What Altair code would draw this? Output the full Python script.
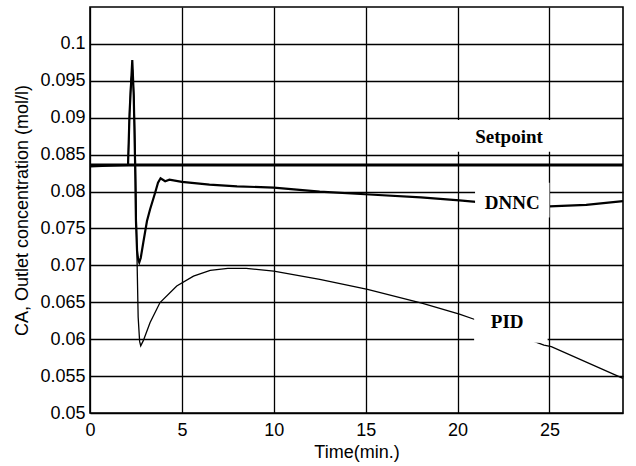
import altair as alt
import pandas as pd

# ---- data ----
dnnc_t = [0, 1.0, 2.07, 2.15, 2.30, 2.38, 2.45, 2.50, 2.56, 2.62, 2.68, 2.76, 2.90, 3.10, 3.27, 3.54, 3.70, 3.84,
          4.09, 4.32, 5.0, 6.5, 8.0, 10.0, 12.5, 15.2, 18.0, 20.1, 21.0, 25.0, 27.0, 29.0]
dnnc_v = [0.0834, 0.0835, 0.0836, 0.0905, 0.0978, 0.0930, 0.0843, 0.0760, 0.0720, 0.0708, 0.0704, 0.0710,
          0.0731, 0.0760, 0.0776, 0.0798, 0.0812, 0.0818, 0.0814, 0.0816, 0.0813, 0.08095, 0.0807, 0.08054,
          0.0800, 0.0796, 0.0792, 0.0788, 0.0786, 0.0780, 0.0782, 0.0787]

pid_t = [0, 2.07, 2.12, 2.22, 2.32, 2.40, 2.47, 2.55, 2.62, 2.70, 2.76, 2.90, 3.27, 3.81, 4.72, 5.63, 6.54, 7.5,
         8.5, 10.0, 12.5, 15.1, 18.1, 20.1, 20.9, 24.7, 25.1, 29.0]
pid_v = [0.0835, 0.0836, 0.0880, 0.0950, 0.0965, 0.0920, 0.0843, 0.0720, 0.0630, 0.0597, 0.0591, 0.0598, 0.06226,
         0.06496, 0.0672, 0.06855, 0.06932, 0.06960, 0.06958, 0.06923, 0.0681, 0.06676, 0.06486, 0.06338,
         0.0627, 0.0592, 0.0590, 0.0547]

setpoint_t = [0, 29]
setpoint_v = [0.0836, 0.0836]

label_text = ["Setpoint", "DNNC", "PID"]
label_t = [22.8, 22.97, 22.7]
label_v = [0.0874, 0.0785, 0.0623]
box_t1 = [19.8, 20.95, 20.9]
box_t2 = [25.4, 25.0, 24.9]
box_v1 = [0.0854, 0.0765, 0.0595]
box_v2 = [0.0897, 0.0812, 0.0638]

x_ticks = [0, 5, 10, 15, 20, 25]
y_ticks = [0.05, 0.055, 0.06, 0.065, 0.07, 0.075, 0.08, 0.085, 0.09, 0.095, 0.1]

dnnc = pd.DataFrame({"t": dnnc_t, "v": dnnc_v})
pid = pd.DataFrame({"t": pid_t, "v": pid_v})
sp = pd.DataFrame({"t": setpoint_t, "v": setpoint_v})
labels = pd.DataFrame({"text": label_text, "t": label_t, "v": label_v,
                       "t1": box_t1, "t2": box_t2, "v1": box_v1, "v2": box_v2})

xs = alt.Scale(domain=[0, 29], nice=False, zero=False)
ys = alt.Scale(domain=[0.05, 0.105], nice=False, zero=False)

xax = alt.Axis(values=x_ticks, title="Time(min.)", grid=True, tickSize=0, domain=False,
               labelPadding=8, titlePadding=4, labelFlush=False)
yax = alt.Axis(values=y_ticks, format="~g", title="CA, Outlet concentration (mol/l)", grid=True,
               tickSize=0, domain=False, labelPadding=5, titlePadding=8, labelFlush=False)

X = alt.X("t:Q", scale=xs, axis=xax)
Y = alt.Y("v:Q", scale=ys, axis=yax)

sp_line = alt.Chart(sp).mark_line(color="black", strokeWidth=3).encode(x=X, y=Y)
dnnc_line = alt.Chart(dnnc).mark_line(color="black", strokeWidth=2.2).encode(x=X, y=Y, order="t:Q")
pid_line = alt.Chart(pid).mark_line(color="black", strokeWidth=1.3).encode(x=X, y=Y, order="t:Q")

boxes = alt.Chart(labels).mark_rect(color="white").encode(
    x=alt.X("t1:Q", scale=xs), x2="t2:Q", y=alt.Y("v1:Q", scale=ys), y2="v2:Q")
texts = alt.Chart(labels).mark_text(font="Liberation Serif", fontWeight="bold", fontSize=19,
                                    color="black", align="center", baseline="middle").encode(
    x=alt.X("t:Q", scale=xs), y=alt.Y("v:Q", scale=ys), text="text:N")

chart = alt.layer(sp_line, dnnc_line, pid_line, boxes, texts).properties(
    width=533, height=406,
    autosize=alt.AutoSizeParams(type="none"),
    padding={"left": 90, "top": 7, "right": 13, "bottom": 53},
    background="white",
).configure_view(stroke="black", strokeWidth=1.6).configure_axis(
    gridColor="black", gridOpacity=1, gridWidth=1.3,
    labelFont="Liberation Sans", labelFontSize=18, labelColor="black",
    titleFont="Liberation Sans", titleFontSize=18, titleFontWeight="normal", titleColor="black",
)

chart.save("out.html", embed_options={"renderer": "svg", "actions": False})
